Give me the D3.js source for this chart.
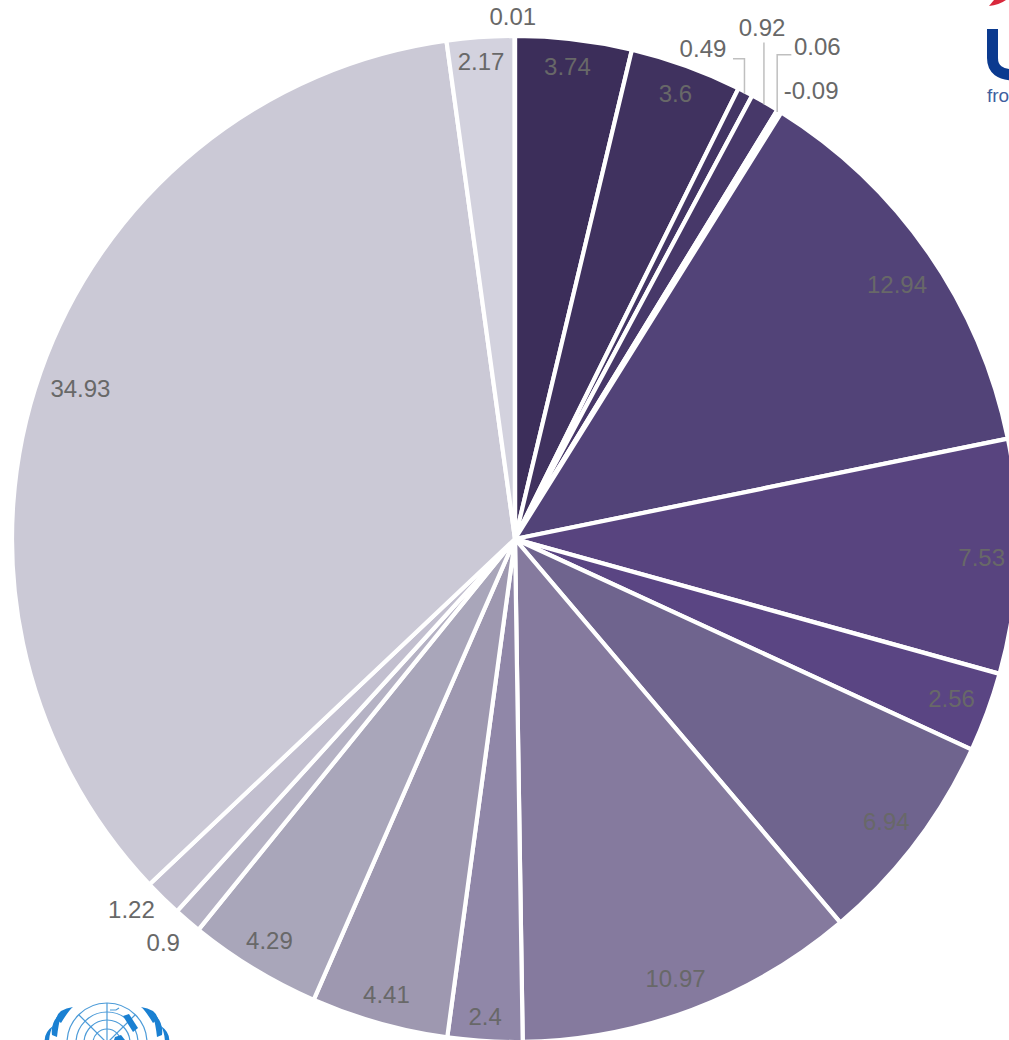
<!DOCTYPE html>
<html><head><meta charset="utf-8">
<script src="https://cdn.jsdelivr.net/npm/d3@7/dist/d3.min.js"></script>
<style>html,body{margin:0;padding:0;background:#fff;overflow:hidden}svg{display:block}text{font-family:"Liberation Sans",Arial,sans-serif}</style>
</head><body>
<script>
const labels = ["3.74","3.6","0.49","0.92","0.06","-0.09","12.94","7.53","2.56","6.94","10.97","2.4","4.41","4.29","0.9","1.22","34.93","2.17","0.01"];
const values = [3.74,3.6,0.49,0.92,0.06,-0.09,12.94,7.53,2.56,6.94,10.97,2.4,4.41,4.29,0.9,1.22,34.93,2.17,0.01];
const colors = ["#3c2e5a","#40325f","#433564","#473869","#4b3c6e","#4e3f73","#524378","#58447f","#5a4583","#6f648e","#857a9e","#9087a8","#9e98b0","#a9a6ba","#b5b2c4","#c2bfcf","#cbc9d6","#d3d2de","#e0dfe8"];
// label nudges from the inside-end anchor of each slice
const nudgeX = [-2,2,-25,16,59,51,0,2,0,1,-3,-2,-3,-4,-49,-58,4,-2,-2];
const nudgeY = [-11,-8,-77,-108,-96,-53,11,2,-1,1,4,13,8,4,51,38,4,-14,-58];
// leader lines: slice index -> end offset from the label centre
const leaderIdx = [2,3,4];
const leaderDX = [30,null,-26];
const leaderDY = [10,15,8];

const W=1009,H=1040,cx=515,cy=539,R=503,labelR=465;
const svg=d3.select("body").append("svg").attr("width",W).attr("height",H).attr("viewBox",`0 0 ${W} ${H}`);

const pie=d3.pie().sort(null).value(d=>Math.abs(d));
const arcs=pie(values);
const arc=d3.arc().innerRadius(0).outerRadius(R);
const g=svg.append("g").attr("transform",`translate(${cx},${cy})`);
g.selectAll("path.s").data(arcs).join("path").attr("class","s")
  .attr("d",arc).attr("fill",(d,i)=>colors[i]).attr("stroke","#fff").attr("stroke-width",4.2).attr("stroke-linejoin","round");

const mid=d=>(d.startAngle+d.endAngle)/2;
const polar=(a,r)=>[r*Math.sin(a),-r*Math.cos(a)];
const labelPos=i=>{const p=polar(mid(arcs[i]),labelR);return [p[0]+nudgeX[i],p[1]+nudgeY[i]];};

leaderIdx.forEach((idx,k)=>{
  const o=polar(mid(arcs[idx]),R-2), l=labelPos(idx);
  const ey=l[1]+leaderDY[k];
  const pts=leaderDX[k]===null?[o,[o[0],ey]]:[o,[o[0],ey],[l[0]+leaderDX[k],ey]];
  g.append("path").attr("d",d3.line()(pts)).attr("fill","none").attr("stroke","#bfbfbf").attr("stroke-width",1.5);
});

g.selectAll("text.l").data(labels).join("text").attr("class","l")
  .attr("x",(d,i)=>labelPos(i)[0]).attr("y",(d,i)=>labelPos(i)[1])
  .attr("text-anchor","middle").attr("dominant-baseline","central")
  .attr("font-size",24).attr("fill","#686868").text(d=>d);

// partner logos cropped at the page edge
const logo=svg.append("g");
logo.append("path").attr("d","M989 6 Q999 5 1006 0 L994 0 Z").attr("fill","#d8283c");
logo.append("path").attr("d","M992.5 29 V58 Q992.5 75 1015 75").attr("fill","none").attr("stroke","#0b3a8f").attr("stroke-width",11);
logo.append("text").attr("x",987).attr("y",102).attr("font-size",19).attr("fill","#3f5f9f").text("fro");

const un=logo.append("g").attr("transform","translate(107,1043)").attr("fill","none").attr("stroke","#4c9bd8").attr("stroke-width",1.2);
[40,31,23,14].forEach(r=>un.append("circle").attr("r",r));
[-45,0,45].forEach(a=>{const t=a*Math.PI/180;un.append("line").attr("x1",0).attr("y1",0).attr("x2",40*Math.sin(t)).attr("y2",-40*Math.cos(t));});
const blue="#1a80d2";
un.append("path").attr("d","M16 -27 l6 -2 l9 14 l-5 4 Z").attr("fill",blue).attr("stroke","none");
un.append("path").attr("d","M8 -6 l6 -2 l4 5 l-12 3 Z").attr("fill",blue).attr("stroke","none");
un.append("path").attr("d","M3 -33 h6 l3 -2").attr("stroke","#4c9bd8");
const leaves=["M46 -20 Q38 -33 34 -36 Q49 -34 51 -24 Z","M50 -6 Q48 -24 44 -32 Q57 -22 55 -8 Z","M58 1 Q58 -10 54 -17 Q64 -10 62 1 Z"];
[-1,1].forEach(s=>leaves.forEach(p=>un.append("path").attr("d",p).attr("fill",blue).attr("stroke","none").attr("transform",`scale(${s},1)`)));
</script>
</body></html>
